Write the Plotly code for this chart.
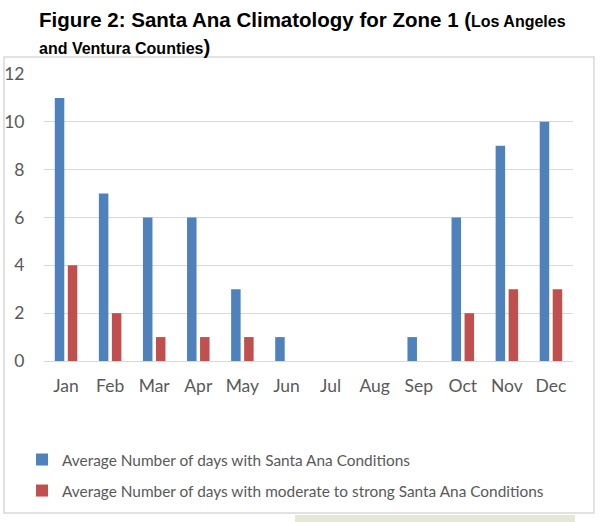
import plotly.graph_objects as go

months = ["Jan", "Feb", "Mar", "Apr", "May", "Jun", "Jul", "Aug", "Sep", "Oct", "Nov", "Dec"]
santa_ana_days = [11, 7, 6, 6, 3, 1, 0, 0, 1, 6, 9, 10]
strong_days = [4, 2, 1, 1, 1, 0, 0, 0, 0, 2, 3, 3]
y_ticks = [0, 2, 4, 6, 8, 10, 12]

name1 = "Average Number of days with Santa Ana Conditions"
name2 = "Average Number of days with moderate to strong Santa Ana Conditions"

W, H = 600, 522
L, R, T, B = 44, 27, 74, 161
pw = W - L - R
ph = H - T - B


def px_x(p):
    return (p - L) / pw


def px_y(p):
    return (H - B - p) / ph


fig = go.Figure()
fig.add_trace(go.Bar(x=months, y=santa_ana_days, name=name1, legendgroup="a",
                     marker=dict(color="#4F81BD", line=dict(width=0))))
fig.add_trace(go.Bar(x=months, y=strong_days, name=name2, legendgroup="b",
                     marker=dict(color="#C0504D", line=dict(width=0))))

font_fam = "Lato, Carlito, Calibri, sans-serif"

fig.update_layout(
    width=W, height=H,
    margin=dict(l=L, r=R, t=T, b=B, autoexpand=False),
    paper_bgcolor="white", plot_bgcolor="white",
    barmode="group", bargap=0.41, bargroupgap=0.27,
    font=dict(family=font_fam, color="#595959", size=17),
    xaxis=dict(showgrid=False, showline=False, ticks="outside", ticklen=9,
               tickcolor="rgba(0,0,0,0)", tickfont=dict(size=17.5, color="#595959")),
    yaxis=dict(range=[0, 12], tickvals=y_ticks, showgrid=True, gridcolor="#D9D9D9", gridwidth=1.3,
               zeroline=True, zerolinecolor="#D9D9D9", zerolinewidth=1.3, showline=False,
               ticks="outside", ticklen=15, tickcolor="rgba(0,0,0,0)",
               tickfont=dict(size=17.5, color="#595959")),
    legend=dict(x=px_x(22), y=px_y(443), xanchor="left", yanchor="top",
                orientation="v", tracegroupgap=8, traceorder="grouped",
                font=dict(size=15.4, color="#595959", family=font_fam),
                itemwidth=30, bgcolor="rgba(0,0,0,0)"),
    showlegend=True,
    shapes=[
        dict(type="rect", xref="paper", yref="paper",
             x0=px_x(4), x1=px_x(594), y0=px_y(513), y1=px_y(57),
             line=dict(color="#D9D9D9", width=1.5), fillcolor="rgba(0,0,0,0)", layer="below"),
        dict(type="rect", xref="paper", yref="paper",
             x0=px_x(295), x1=px_x(575), y0=px_y(522), y1=px_y(515),
             line=dict(width=0), fillcolor="#E6E8D6", layer="below"),
    ],
    annotations=[
        dict(xref="paper", yref="paper", x=px_x(37), y=px_y(6), xanchor="left", yanchor="top",
             align="left", showarrow=False,
             font=dict(family="Liberation Sans, Arial, sans-serif", size=20.5, color="black"),
             text="<b>Figure 2: Santa Ana Climatology for Zone 1 (<span style='font-size:16px'>Los Angeles</span><br>"
                  "<span style='font-size:16px'>and Ventura Counties</span>)</b>"),
    ],
)

fig.write_html("out.html", config={"displayModeBar": False},
               post_script="document.body.style.margin='0';document.body.style.padding='0';")
